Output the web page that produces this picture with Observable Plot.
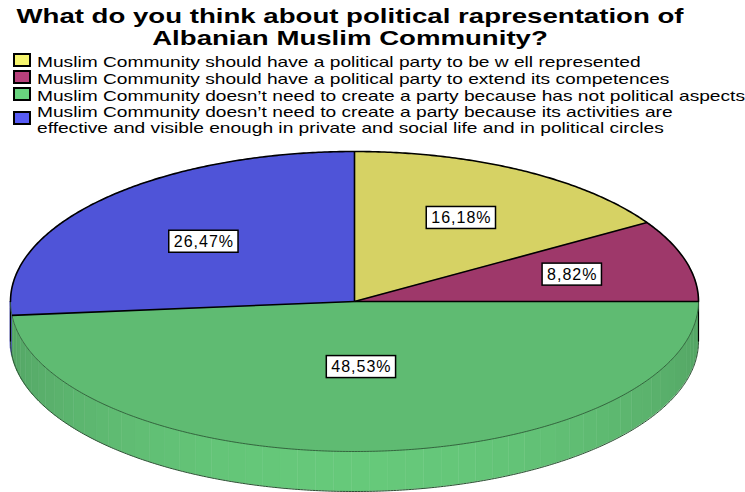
<!DOCTYPE html>
<html><head><meta charset="utf-8">
<script src="https://cdn.jsdelivr.net/npm/d3@7"></script>
<script src="https://cdn.jsdelivr.net/npm/@observablehq/plot@0.6"></script>
<style>
body{margin:0;background:#fff;width:745px;height:492px;overflow:hidden;position:relative;font-family:"Liberation Sans",Arial,sans-serif;color:#000}
#title{position:absolute;left:0;top:5px;width:700px;text-align:center;font-weight:bold;font-size:21px;line-height:22px;white-space:nowrap;transform-origin:350px 0}
#legend{position:absolute;left:13px;top:53px;font-size:15px}
.row{display:flex;align-items:center;line-height:17px;white-space:nowrap}
.row.two{line-height:16px}
.sw{width:14px;height:10px;border:2px solid #000;margin-right:6px;flex:none;transform:translateY(-2px)}
.tx{transform-origin:0 0}
#chart{position:absolute;left:0;top:140px}
</style></head>
<body>
<div id="title"></div>
<div id="legend"></div>
<div id="chart"></div>
<script>
// ---- data ----
const titleLines = ["What do you think about political rapresentation of", "Albanian Muslim Community?"];
const categories = [
  "Muslim Community should have a political party to be w ell represented",
  "Muslim Community should have a political party to extend its competences",
  "Muslim Community doesn\u2019t need to create a party because has not political aspects",
  "Muslim Community doesn\u2019t need to create a party because its activities are\neffective and visible enough in private and social life and in political circles"
];
const percents = [16.18, 8.82, 48.53, 26.47];
const legendColors = ["#f6f56e", "#b7407b", "#68d47e", "#585cf5"];
const faceColors = ["#d6d264", "#9e386a", "#5fbb72", "#4f54d8"];

// ---- text helpers ----
const cvs = document.createElement("canvas").getContext("2d");
function stretchFor(text, font, target){ cvs.font = font; return target / cvs.measureText(text).width; }

const titleEl = document.getElementById("title");
titleEl.style.transform = `scaleX(${stretchFor(titleLines[0], "bold 21px 'Liberation Sans'", 667)})`;
titleEl.innerHTML = titleLines.join("<br>");

const legendEl = document.getElementById("legend");
const legScale = stretchFor(categories[2], "15px 'Liberation Sans'", 708);
categories.forEach((c, i) => {
  const row = document.createElement("div");
  row.className = "row" + (c.includes("\n") ? " two" : "");
  const sw = document.createElement("div"); sw.className = "sw"; sw.style.background = legendColors[i];
  const tx = document.createElement("div"); tx.className = "tx"; tx.style.transform = `scaleX(${legScale})`;
  tx.innerHTML = c.split("\n").join("<br>");
  row.append(sw, tx); legendEl.append(row);
});

// ---- pie geometry ----
const cx = 354, cy = 161, rx = 344, ry = 150, depthPx = 40;
const depth = depthPx / ry;
const total = d3.sum(percents);
let acc = 0;
const slices = percents.map((p, i) => {
  const a0 = acc / total * 2 * Math.PI; acc += p;
  const a1 = acc / total * 2 * Math.PI;
  return {i, p, a0, a1, label: p.toFixed(2).replace(".", ",") + "%"};
});
function angles(a0, a1, step = Math.PI / 360){
  const n = Math.max(1, Math.ceil((a1 - a0) / step));
  return d3.range(n + 1).map(k => a0 + (a1 - a0) * k / n);
}
const faces = slices.map(s => [{x: 0, y: 0}, ...angles(s.a0, s.a1).map(a => ({x: Math.sin(a), y: Math.cos(a)})), {x: 0, y: 0}]);
const wall = [];
let stripId = 0;
slices.forEach(s => {
  const b0 = Math.max(s.a0, Math.PI / 2), b1 = Math.min(s.a1, 3 * Math.PI / 2);
  if (b1 <= b0) return;
  const nStrips = Math.max(1, Math.round((b1 - b0) / (Math.PI / 60)));
  for (let k = 0; k < nStrips; k++) {
    const c0 = b0 + (b1 - b0) * k / nStrips, c1 = b0 + (b1 - b0) * (k + 1) / nStrips;
    const mid = (c0 + c1) / 2, t = Math.max(0, -Math.cos(mid));
    const base = d3.color(faceColors[s.i]);
    const fill = d3.interpolateRgb(base.darker(0.35), base.brighter(0.2))(Math.pow(t, 1.5));
    angles(c0, c1, Math.PI / 720).forEach(a => wall.push({strip: stripId, x: Math.sin(a), y1: Math.cos(a), y2: Math.cos(a) - depth, fill}));
    stripId++;
  }
});
const frontArc = angles(Math.PI / 2, 3 * Math.PI / 2).map(a => ({x: Math.sin(a), y: Math.cos(a)}));
const backArc = angles(-Math.PI / 2, Math.PI / 2).map(a => ({x: Math.sin(a), y: Math.cos(a)}));
const bottomArc = frontArc.map(d => ({x: d.x, y: d.y - depth}));
const sideEdges = [{x: 1, y1: 0, y2: -depth}, {x: -1, y1: 0, y2: -depth}];
const radii = slices.map(s => ({x2: Math.sin(s.a0), y2: Math.cos(s.a0)}));
const labels = slices.map(s => {
  const h = (s.a1 - s.a0) / 2, mid = (s.a0 + s.a1) / 2;
  const f = (2 / 3) * Math.sin(h) / h;
  return {x: f * Math.sin(mid), y: f * Math.cos(mid), label: s.label};
});

const chart = Plot.plot({
  width: 745, height: 352, margin: 0,
  x: {domain: [-1, 1], range: [cx - rx, cx + rx], axis: null},
  y: {domain: [-1, 1], range: [cy + ry, cy - ry], axis: null},
  color: {type: "identity"},
  marks: [
    Plot.areaY(wall, {x: "x", y1: "y1", y2: "y2", z: "strip", fill: "fill", stroke: "fill", strokeWidth: 0.6}),
    Plot.line(bottomArc, {x: "x", y: "y", stroke: "#2c4f33", strokeWidth: 1}),
    Plot.link(sideEdges, {x1: "x", x2: "x", y1: "y1", y2: "y2", stroke: "#000", strokeWidth: 1.2}),
    ...faces.map((f, i) => Plot.line(f, {x: "x", y: "y", fill: faceColors[i], stroke: faceColors[i], strokeWidth: 0.5})),
    Plot.line(frontArc, {x: "x", y: "y", stroke: "#2f5a38", strokeWidth: 0.9}),
    Plot.line(backArc, {x: "x", y: "y", stroke: "#000", strokeWidth: 1.6}),
    Plot.link(radii, {x1: () => 0, y1: () => 0, x2: "x2", y2: "y2", stroke: "#000", strokeWidth: 1.6}),
    Plot.text(labels, {x: "x", y: "y", text: "label", fontSize: 16, fill: "#000", fontFamily: "Liberation Sans"})
  ]
});
document.getElementById("chart").append(chart);

chart.querySelectorAll('g[aria-label="text"] text').forEach(t => {
  t.style.letterSpacing = "1px";
  const b = t.getBBox();
  const r = document.createElementNS("http://www.w3.org/2000/svg", "rect");
  r.setAttribute("x", b.x - 5); r.setAttribute("y", b.y - 2.5);
  r.setAttribute("width", b.width + 9); r.setAttribute("height", b.height + 5);
  r.setAttribute("fill", "#fff"); r.setAttribute("stroke", "#000"); r.setAttribute("stroke-width", 1.5);
  const tr = t.getAttribute("transform");
  if (tr) r.setAttribute("transform", tr);
  t.parentNode.insertBefore(r, t);
});
</script>
</body></html>
